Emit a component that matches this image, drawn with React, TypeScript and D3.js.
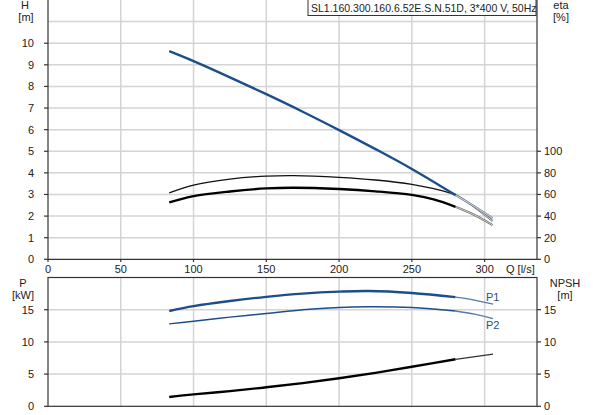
import { useMemo } from "react";
import * as d3 from "d3";

const title = "SL1.160.300.160.6.52E.S.N.51D, 3*400 V, 50Hz";

// flow axis (l/s)
const qTicks = [0, 50, 100, 150, 200, 250, 300];

// head curve H [m]
const hQ = [83.3, 100, 125, 150, 175, 200, 225, 250, 280];
const hVal = [9.63, 9.17, 8.42, 7.64, 6.83, 5.98, 5.1, 4.18, 2.97];
const hExtQ = [280, 293, 305.5];
const hExtVal = [2.97, 2.45, 1.9];

// efficiency curves eta [%]
const etaQ = [83.3, 100, 125, 150, 169, 200, 225, 250, 265, 280];
const etaTop = [61.5, 68.7, 74.2, 77.0, 77.5, 75.9, 73.4, 69.4, 65.4, 60.0];
const etaLow = [52.7, 58.5, 62.8, 65.6, 66.2, 65.0, 62.9, 59.6, 55.4, 48.6];
const etaExtQ = [280, 293, 305.5];
const etaTopExt = [60.0, 48.5, 35.5];
const etaLowExt = [48.6, 41.0, 31.7];

// power P1 / P2 [kW]
const pQ = [83.3, 100, 125, 150, 175, 200, 220, 250, 280];
const p1 = [14.8, 15.55, 16.35, 17.0, 17.5, 17.8, 17.9, 17.6, 16.95];
const p2 = [12.8, 13.2, 13.85, 14.4, 15.0, 15.35, 15.45, 15.35, 14.8];
const pExtQ = [280, 293, 305.8];
const p1Ext = [16.95, 16.5, 15.85];
const p2Ext = [14.8, 14.3, 13.6];

// NPSH [m]
const npshQ = [83.3, 100, 125, 150, 175, 200, 225, 250, 280];
const npsh = [1.45, 1.85, 2.35, 2.95, 3.6, 4.35, 5.2, 6.15, 7.3];
const npshExtQ = [280, 305.8];
const npshExt = [7.3, 8.1];

const hTicks = [0, 1, 2, 3, 4, 5, 6, 7, 8, 9, 10];
const etaTicks = [0, 20, 40, 60, 80, 100];
const pTicks = [0, 5, 10, 15];

const W = 593;
const H = 415;
const L = 48;
const R = 537;
const BLUE = "#1b4e8a";
const GRID = "#d4d4d4";
const AXIS = "#333";
const FONT = "'Liberation Sans', Arial, sans-serif";

type Pt = [number, number];
const zip = (a: number[], b: number[]): Pt[] => a.map((v, i) => [v, b[i]]);

export default function App() {
  const x = useMemo(() => d3.scaleLinear().domain([0, 336]).range([L, R]), []);
  const yH = useMemo(() => d3.scaleLinear().domain([0, 12]).range([259.3, 0]), []);
  const yEta = useMemo(() => d3.scaleLinear().domain([0, 240]).range([259.3, 0]), []);
  const yP = useMemo(() => d3.scaleLinear().domain([0, 20]).range([406.3, 277.5]), []);

  const line = (ys: d3.ScaleLinear<number, number>) =>
    d3
      .line<Pt>()
      .x((d) => x(d[0]))
      .y((d) => ys(d[1]))
      .curve(d3.curveCatmullRom.alpha(0.5));

  const lh = line(yH);
  const le = line(yEta);
  const lp = line(yP);

  // grey "double" line used for the part of a curve beyond its working range
  const ext = (d: string | null, outer: string) => (
    <g>
      <path d={d ?? ""} fill="none" stroke={outer} strokeWidth={2} />
      <path d={d ?? ""} fill="none" stroke="#fff" strokeWidth={0.7} />
    </g>
  );

  const txt = { fontFamily: FONT, fontSize: 11, fill: "#222" } as const;

  return (
    <svg
      width={W}
      height={H}
      viewBox={`0 0 ${W} ${H}`}
      style={{ position: "absolute", left: 0, top: 0, background: "#fff" }}
    >
      {/* grids */}
      <g stroke={GRID} strokeWidth={1.5}>
        {qTicks.slice(1).map((q) => (
          <line key={`vt${q}`} x1={x(q)} x2={x(q)} y1={0} y2={259.3} />
        ))}
        {d3.range(1, 12).map((h) => (
          <line key={`ht${h}`} x1={L} x2={R} y1={yH(h)} y2={yH(h)} />
        ))}
        {qTicks.slice(1).map((q) => (
          <line key={`vb${q}`} x1={x(q)} x2={x(q)} y1={277.5} y2={406.3} />
        ))}
        {[5, 10, 15].map((p) => (
          <line key={`hb${p}`} x1={L} x2={R} y1={yP(p)} y2={yP(p)} />
        ))}
      </g>

      {/* top plot axes */}
      <g stroke={AXIS} strokeWidth={1.2}>
        <line x1={L} x2={L} y1={0} y2={259.3} />
        <line x1={R} x2={R} y1={0} y2={259.3} />
        <line x1={L} x2={R} y1={259.3} y2={259.3} />
        {hTicks.map((h) => (
          <line key={`th${h}`} x1={L - 4} x2={L} y1={yH(h)} y2={yH(h)} />
        ))}
        {etaTicks.map((e) => (
          <line key={`te${e}`} x1={R} x2={R + 4} y1={yEta(e)} y2={yEta(e)} />
        ))}
        {qTicks.map((q) => (
          <line key={`tq${q}`} x1={x(q)} x2={x(q)} y1={259.3} y2={262} />
        ))}
      </g>

      {/* bottom plot frame */}
      <g stroke={AXIS} strokeWidth={1.2} fill="none">
        <rect x={L} y={277.5} width={R - L} height={406.3 - 277.5} />
        {pTicks.map((p) => (
          <line key={`tp${p}`} x1={L - 4} x2={L} y1={yP(p)} y2={yP(p)} />
        ))}
        {pTicks.map((p) => (
          <line key={`tn${p}`} x1={R} x2={R + 4} y1={yP(p)} y2={yP(p)} />
        ))}
      </g>

      {/* tick labels */}
      <g {...txt}>
        {hTicks.map((h) => (
          <text key={`lh${h}`} x={34} y={yH(h) + 4} textAnchor="end">
            {h}
          </text>
        ))}
        {etaTicks.map((e) => (
          <text key={`le${e}`} x={544} y={yEta(e) + 4}>
            {e}
          </text>
        ))}
        {qTicks.map((q) => (
          <text key={`lq${q}`} x={x(q)} y={272.5} textAnchor="middle">
            {q}
          </text>
        ))}
        <text x={506} y={272.5}>Q [l/s]</text>
        {pTicks.map((p) => (
          <text key={`lp${p}`} x={34} y={yP(p) + 4} textAnchor="end">
            {p}
          </text>
        ))}
        {pTicks.map((p) => (
          <text key={`ln${p}`} x={544} y={yP(p) + 4}>
            {p}
          </text>
        ))}
        <text x={25} y={9} textAnchor="middle">H</text>
        <text x={26} y={21} textAnchor="middle">[m]</text>
        <text x={561} y={9} textAnchor="middle">eta</text>
        <text x={561} y={21} textAnchor="middle">[%]</text>
        <text x={23} y={287} textAnchor="middle">P</text>
        <text x={23} y={299} textAnchor="middle">[kW]</text>
        <text x={565} y={287} textAnchor="middle">NPSH</text>
        <text x={565} y={299} textAnchor="middle">[m]</text>
      </g>

      {/* title box */}
      <rect x={308} y={-1} width={228} height={16.5} fill="#fff" stroke={AXIS} strokeWidth={1} />
      <text {...txt} fontSize={10.5} x={311} y={12}>
        {title}
      </text>

      {/* extensions */}
      {ext(le(zip(etaExtQ, etaLowExt)), "#666")}
      {ext(le(zip(etaExtQ, etaTopExt)), "#666")}
      {ext(lh(zip(hExtQ, hExtVal)), "#6a7d94")}

      {/* efficiency */}
      <path d={le(zip(etaQ, etaTop)) ?? ""} fill="none" stroke="#111" strokeWidth={1.3} />
      <path d={le(zip(etaQ, etaLow)) ?? ""} fill="none" stroke="#000" strokeWidth={2.4} />

      {/* head */}
      <path d={lh(zip(hQ, hVal)) ?? ""} fill="none" stroke={BLUE} strokeWidth={2.4} />

      {/* power */}
      <path d={lp(zip(pExtQ, p1Ext)) ?? ""} fill="none" stroke="#5a7aa3" strokeWidth={1.3} />
      <path d={lp(zip(pQ, p1)) ?? ""} fill="none" stroke={BLUE} strokeWidth={2.4} />
      <path d={lp(zip(pExtQ, p2Ext)) ?? ""} fill="none" stroke="#5a7aa3" strokeWidth={1.3} />
      <path d={lp(zip(pQ, p2)) ?? ""} fill="none" stroke={BLUE} strokeWidth={1.4} />

      {/* NPSH */}
      <path d={lp(zip(npshExtQ, npshExt)) ?? ""} fill="none" stroke="#333" strokeWidth={1.2} />
      <path d={lp(zip(npshQ, npsh)) ?? ""} fill="none" stroke="#000" strokeWidth={2.4} />

      <g fontFamily={FONT} fontSize={11} fill="#2a4f7a">
        <text x={486} y={301}>P1</text>
        <text x={486} y={329}>P2</text>
      </g>
    </svg>
  );
}
